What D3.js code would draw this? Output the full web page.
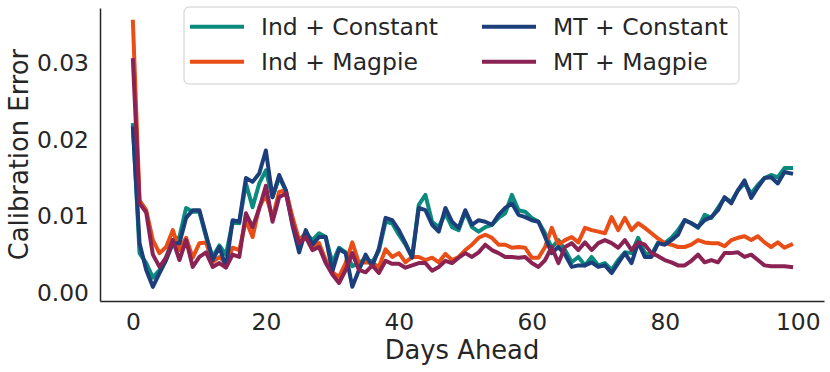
<!DOCTYPE html>
<html>
<head>
<meta charset="utf-8">
<script src="https://cdnjs.cloudflare.com/ajax/libs/d3/7.8.5/d3.min.js"></script>
<style>
  body { margin: 0; background: #fff; }
  svg { display: block; font-family: 'DejaVu Sans', sans-serif; }
</style>
</head>
<body>
<div id="graf"></div>
<script>
// I. Datos
dias = [0,1,2,3,4,5,6,7,8,9,10,11,12,13,14,15,16,17,18,19,20,21,22,23,24,25,26,27,28,29,
        30,31,32,33,34,35,36,37,38,39,40,41,42,43,44,45,46,47,48,49,50,51,52,53,54,55,56,57,58,59,
        60,61,62,63,64,65,66,67,68,69,70,71,72,73,74,75,76,77,78,79,80,81,82,83,84,85,86,87,88,89,
        90,91,92,93,94,95,96,97,98,99]

indConstant = [.0219,.0052,.0039,.0020,.0030,.0047,.0069,.0073,.0111,.0106,
               .0106,.0073,.0047,.0062,.0050,.0093,.0091,.0143,.0112,.0143,
               .0160,.0125,.0151,.0134,.0095,.0065,.0078,.0069,.0078,.0073,
               .0039,.0059,.0053,.0035,.0039,.0045,.0040,.0055,.0093,.0091,
               .0076,.0063,.0047,.0115,.0128,.0093,.0086,.0104,.0086,.0082,
               .0106,.0086,.0080,.0086,.0089,.0098,.0104,.0128,.0108,.0106,
               .0098,.0093,.0078,.0059,.0069,.0056,.0040,.0047,.0036,.0047,
               .0036,.0039,.0030,.0043,.0053,.0052,.0072,.0052,.0050,.0066,
               .0065,.0072,.0082,.0095,.0091,.0085,.0102,.0098,.0111,.0124,
               .0119,.0134,.0143,.0130,.0141,.0150,.0154,.0151,.0163,.0163]

indMagpie = [.0354,.0121,.0108,.0069,.0052,.0060,.0082,.0056,.0072,.0046,
             .0065,.0066,.0040,.0047,.0039,.0059,.0056,.0095,.0073,.0112,
             .0128,.0098,.0132,.0134,.0099,.0069,.0078,.0059,.0065,.0043,
             .0027,.0021,.0039,.0066,.0039,.0040,.0039,.0034,.0057,.0047,
             .0052,.0040,.0047,.0047,.0043,.0046,.0040,.0051,.0043,.0047,
             .0056,.0063,.0072,.0076,.0072,.0063,.0063,.0059,.0060,.0059,
             .0046,.0046,.0060,.0085,.0063,.0069,.0073,.0066,.0085,.0082,
             .0080,.0078,.0099,.0082,.0098,.0082,.0091,.0085,.0078,.0071,
             .0065,.0063,.0060,.0060,.0063,.0069,.0066,.0065,.0065,.0061,
             .0069,.0072,.0074,.0069,.0074,.0066,.0060,.0066,.0059,.0063]

mtConstant = [.0215,.0065,.0030,.0008,.0026,.0043,.0065,.0065,.0098,.0108,
              .0108,.0076,.0043,.0060,.0034,.0095,.0093,.0150,.0145,.0156,
              .0186,.0125,.0154,.0134,.0088,.0053,.0082,.0063,.0073,.0073,
              .0028,.0057,.0052,.0008,.0030,.0050,.0035,.0058,.0098,.0095,
              .0082,.0065,.0046,.0111,.0108,.0089,.0080,.0111,.0093,.0085,
              .0108,.0089,.0095,.0093,.0089,.0102,.0111,.0117,.0102,.0099,
              .0095,.0093,.0073,.0052,.0060,.0050,.0034,.0036,.0036,.0040,
              .0034,.0036,.0026,.0039,.0052,.0039,.0066,.0047,.0047,.0065,
              .0063,.0069,.0076,.0095,.0091,.0086,.0095,.0099,.0108,.0125,
              .0117,.0134,.0147,.0124,.0138,.0150,.0151,.0143,.0158,.0156]

mtMagpie = [.0304,.0117,.0105,.0050,.0034,.0046,.0069,.0043,.0069,.0034,
            .0047,.0053,.0034,.0039,.0033,.0050,.0047,.0104,.0086,.0110,
            .0140,.0093,.0125,.0130,.0091,.0065,.0073,.0056,.0060,.0039,
            .0024,.0013,.0030,.0052,.0030,.0027,.0036,.0026,.0042,.0038,
            .0038,.0033,.0036,.0039,.0039,.0029,.0034,.0042,.0039,.0046,
            .0052,.0047,.0053,.0063,.0056,.0052,.0047,.0047,.0046,.0047,
            .0039,.0034,.0043,.0060,.0039,.0060,.0065,.0056,.0066,.0056,
            .0065,.0069,.0065,.0059,.0069,.0056,.0066,.0063,.0052,.0048,
            .0043,.0040,.0036,.0036,.0042,.0050,.0040,.0043,.0040,.0052,
            .0052,.0053,.0047,.0050,.0043,.0036,.0035,.0035,.0035,.0034]

nombres = ['Ind + Constant', 'Ind + Magpie', 'MT + Constant', 'MT + Magpie']
colores = ['#0b8a7e', '#e84e15', '#1c3f7c', '#8a2253']
xTicks = [0, 20, 40, 60, 80, 100]
yTicks = [0, 0.01, 0.02, 0.03]

series = [indConstant, indMagpie, mtConstant, mtMagpie].map((vals, i) => ({
  nombre: nombres[i],
  color: colores[i],
  puntos: dias.map((d, j) => ({ dia: d, valor: vals[j] }))
}))

// II. Configuración
ancho_total = 830
alto_total = 372

svg = d3.select('#graf').append('svg')
        .attr('width', ancho_total)
        .attr('height', alto_total)

x = d3.scaleLinear()
      .domain([-4.95, 103.95])
      .range([100, 824])

y = d3.scaleLinear()
      .domain([-0.00105, 0.0372])
      .range([301, 8])

tinta = '#262626'

// III. Ejes
xAxisCall = d3.axisBottom(x)
              .tickValues(xTicks)
              .tickSize(0)
              .tickSizeOuter(0)
              .tickPadding(12)
xAxisGroup = svg.append('g')
                .attr('transform', `translate(0, ${ y.range()[0] })`)
                .call(xAxisCall)

yAxisCall = d3.axisLeft(y)
              .tickValues(yTicks)
              .tickSize(0)
              .tickSizeOuter(0)
              .tickPadding(11)
              .tickFormat(d3.format('.2f'))
yAxisGroup = svg.append('g')
                .attr('transform', `translate(${ x.range()[0] }, 0)`)
                .call(yAxisCall)

svg.selectAll('.domain')
   .attr('stroke', tinta)
   .attr('stroke-width', 1.5)
svg.selectAll('.tick text')
   .attr('fill', tinta)
   .style('font-size', '23.4px')
   .style('font-family', "'DejaVu Sans', sans-serif")

svg.append('text')
   .attr('x', (x(-4.95) + x(103.95)) / 2)
   .attr('y', 359)
   .attr('text-anchor', 'middle')
   .attr('fill', tinta)
   .style('font-size', '25.8px')
   .text('Days Ahead')

svg.append('text')
   .attr('transform', `translate(28, ${ (y.range()[0] + y.range()[1]) / 2 }) rotate(-90)`)
   .attr('text-anchor', 'middle')
   .attr('fill', tinta)
   .style('font-size', '25.8px')
   .text('Calibration Error')

// IV. Líneas
linea = d3.line()
          .x(d => x(d.dia))
          .y(d => y(d.valor))

svg.append('g')
   .selectAll('path')
   .data(series)
   .enter()
   .append('path')
     .attr('d', d => linea(d.puntos))
     .attr('fill', 'none')
     .attr('stroke', d => d.color)
     .attr('stroke-width', 4)
     .attr('stroke-linejoin', 'round')
     .attr('stroke-linecap', 'square')

// V. Leyenda (por columnas, como matplotlib)
leyenda = svg.append('g')
leyenda.append('rect')
       .attr('x', 184)
       .attr('y', 7)
       .attr('width', 555)
       .attr('height', 77)
       .attr('rx', 5)
       .attr('fill', 'white')
       .attr('fill-opacity', 0.8)
       .attr('stroke', '#cccccc')
       .attr('stroke-width', 1)

colX = [192, 484]
filaY = [26.7, 61.7]

item = leyenda.selectAll('.item')
              .data(series)
              .enter()
              .append('g')
                .attr('class', 'item')
                .attr('transform', (d, i) => `translate(${ colX[Math.floor(i / 2)] }, ${ filaY[i % 2] })`)

item.append('line')
    .attr('x1', 0)
    .attr('x2', 50)
    .attr('stroke', d => d.color)
    .attr('stroke-width', 4)
    .attr('stroke-linecap', 'square')

item.append('text')
    .attr('x', 69)
    .attr('dy', '0.36em')
    .attr('fill', tinta)
    .style('font-size', '23.5px')
    .text(d => d.nombre)
</script>
</body>
</html>
